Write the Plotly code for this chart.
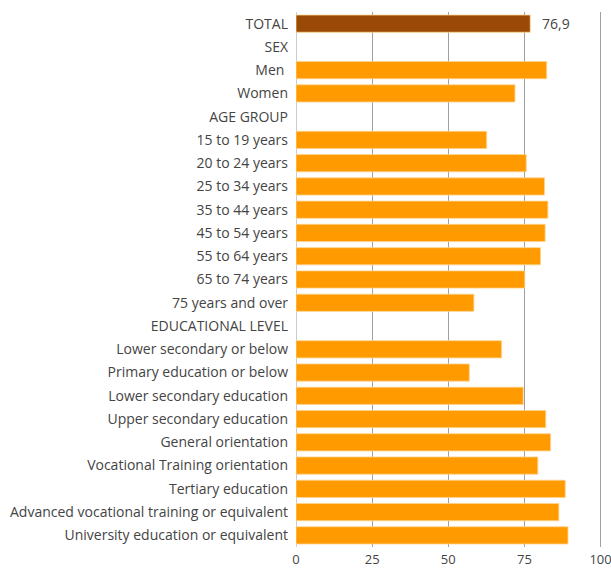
import plotly.graph_objects as go

categories = [
    "TOTAL", "SEX", "Men ", "Women", "AGE GROUP",
    "15 to 19 years", "20 to 24 years", "25 to 34 years", "35 to 44 years",
    "45 to 54 years", "55 to 64 years", "65 to 74 years", "75 years and over",
    "EDUCATIONAL LEVEL", "Lower secondary or below", "Primary education or below",
    "Lower secondary education", "Upper secondary education", "General orientation",
    "Vocational Training orientation", "Tertiary education",
    "Advanced vocational training or equivalent", "University education or equivalent",
]
values = [
    76.9, None, 82.3, 71.9, None,
    62.6, 75.6, 81.6, 82.7,
    81.8, 80.3, 75.1, 58.4,
    None, 67.5, 56.9,
    74.6, 82.0, 83.6,
    79.4, 88.4,
    86.3, 89.3,
]
total_label = "76,9"
tick_vals = [0, 25, 50, 75, 100]

FONT = "Open Sans"
colors = ["#9A4A06" if c == "TOTAL" else "#FF9B00" for c in categories]

fig = go.Figure()
fig.add_trace(go.Bar(
    y=categories, x=values, orientation="h",
    marker=dict(color=colors, line=dict(color="rgba(255,210,140,0.8)", width=1)),
    width=0.74, hoverinfo="x+y",
))
fig.add_annotation(
    x=values[0], y=categories[0], text=total_label, showarrow=False,
    xanchor="left", xshift=10, font=dict(size=14, color="#444444", family=FONT),
)
# plot area spans page x 296..603, y 12..547 (body margin removed below)
fig.update_layout(
    width=611, height=568,
    margin=dict(l=296, r=8, t=12, b=21),
    plot_bgcolor="white", paper_bgcolor="white",
    font=dict(family=FONT, size=14, color="#444444"),
    showlegend=False,
    bargap=0.26,
)
fig.update_xaxes(
    range=[0, 100.8], tickvals=tick_vals, showgrid=True, gridcolor="#a0a0a0", gridwidth=1,
    zeroline=True, zerolinecolor="#cccccc", zerolinewidth=1, automargin=False,
    showline=False, ticks="", ticklabelstandoff=3, ticklabeloverflow="allow",
    tickfont=dict(size=13, color="#444444"), fixedrange=True,
)
fig.update_yaxes(
    categoryorder="array", categoryarray=categories, autorange="reversed", automargin=False,
    showgrid=False, ticks="", ticklabelstandoff=7, tickfont=dict(size=14, color="#444444"),
    fixedrange=True,
)
fig.write_html(
    "out.html",
    config={"displayModeBar": False},
    post_script="document.body.style.margin='0';document.body.style.overflow='hidden';",
)
